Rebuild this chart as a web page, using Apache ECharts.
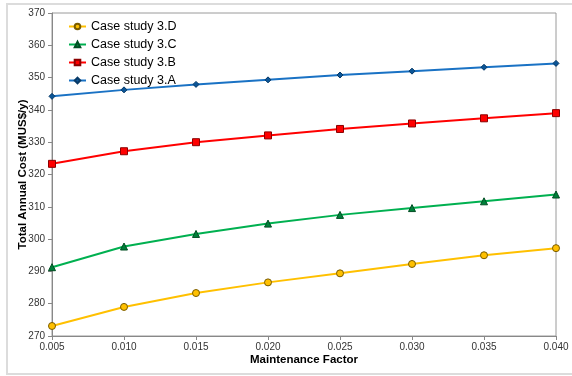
<!DOCTYPE html>
<html>
<head>
<meta charset="utf-8">
<script src="https://cdn.jsdelivr.net/npm/echarts@6/dist/echarts.min.js"></script>
<style>
  html, body { margin: 0; padding: 0; background: #fff; }
  #chart { width: 572px; height: 376px; }
</style>
</head>
<body>
<div id="chart"></div>
<script>
// Maintenance factor values along the x axis
const factors = ['0.005', '0.010', '0.015', '0.020', '0.025', '0.030', '0.035', '0.040'];

// Total annual cost (MUS$/y) for each case study
const case3D = [273.1, 279.0, 283.3, 286.6, 289.4, 292.3, 295.0, 297.2];
const case3C = [291.3, 297.7, 301.6, 304.8, 307.5, 309.6, 311.7, 313.8];
const case3B = [323.3, 327.2, 330.0, 332.1, 334.1, 335.8, 337.4, 339.0];
const case3A = [344.2, 346.2, 347.9, 349.3, 350.8, 352.0, 353.2, 354.4];

const font = 'Liberation Sans, Arial, sans-serif';

const chart = echarts.init(document.getElementById('chart'), null, { renderer: 'canvas' });

function lineSeries(name, data, color, symbol, size, fill, border) {
  return {
    name: name,
    type: 'line',
    data: data,
    symbol: symbol,
    symbolSize: size,
    showAllSymbol: true,
    lineStyle: { color: color, width: 2 },
    itemStyle: { color: fill, borderColor: border, borderWidth: 1 },
    emphasis: { disabled: true },
    z: 3
  };
}

chart.setOption({
  animation: false,
  backgroundColor: '#fff',
  graphic: [{
    type: 'rect',
    shape: { x: 7, y: 4, width: 600, height: 370 },
    style: { fill: 'none', stroke: '#dcdcdc', lineWidth: 2 },
    silent: true,
    z: -1
  }],
  grid: {
    left: 52, right: 16, top: 13, bottom: 40,
    outerBoundsMode: 'none',
    containLabel: false,
    show: true,
    borderColor: '#9a9a9a',
    borderWidth: 1,
    backgroundColor: 'transparent'
  },
  legend: {
    orient: 'vertical',
    left: 63,
    top: 15,
    itemWidth: 17,
    itemHeight: 7,
    itemGap: 5,
    textStyle: { fontFamily: font, fontSize: 12.5, color: '#000', lineHeight: 12 },
    data: ['Case study 3.D', 'Case study 3.C', 'Case study 3.B', 'Case study 3.A']
  },
  xAxis: {
    type: 'category',
    data: factors,
    boundaryGap: false,
    name: 'Maintenance Factor',
    nameLocation: 'middle',
    nameGap: 18,
    nameMoveOverlap: false,
    nameTextStyle: { fontFamily: font, fontSize: 11.5, fontWeight: 'bold', color: '#000' },
    axisLine: { lineStyle: { color: '#888', width: 1 } },
    axisTick: { show: true, length: 4, alignWithLabel: true, lineStyle: { color: '#888' } },
    axisLabel: { fontFamily: font, fontSize: 10, color: '#333', margin: 6 },
    splitLine: { show: false }
  },
  yAxis: {
    type: 'value',
    min: 270,
    max: 370,
    interval: 10,
    name: 'Total Annual Cost (MUS$/y)',
    nameLocation: 'middle',
    nameGap: 23,
    nameMoveOverlap: false,
    nameTextStyle: { fontFamily: font, fontSize: 11.5, fontWeight: 'bold', color: '#000' },
    axisLine: { show: true, lineStyle: { color: '#888', width: 1 } },
    axisTick: { show: true, length: 4, lineStyle: { color: '#888' } },
    axisLabel: { fontFamily: font, fontSize: 10, color: '#333', margin: 7 },
    splitLine: { show: false }
  },
  series: [
    lineSeries('Case study 3.D', case3D, '#ffc000', 'circle', 7, '#ffc000', '#7a5c00'),
    lineSeries('Case study 3.C', case3C, '#00b050', 'triangle', 7, '#00803a', '#004d22'),
    lineSeries('Case study 3.B', case3B, '#ff0000', 'rect', 7, '#ff0000', '#8b0000'),
    lineSeries('Case study 3.A', case3A, '#1a72c4', 'diamond', 6, '#0b5597', '#073a68')
  ]
});
</script>
</body>
</html>
